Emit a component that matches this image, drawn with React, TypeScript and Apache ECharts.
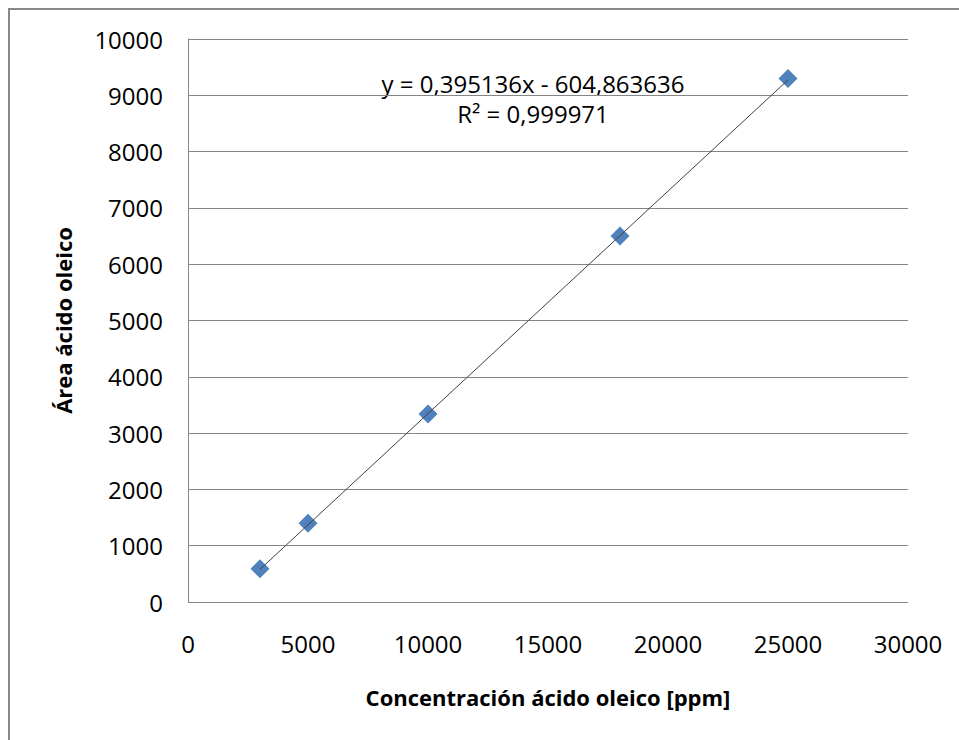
import React, { useEffect, useRef } from "react";
import * as echarts from "echarts";

const concentrations = [3000, 5000, 10000, 18000, 25000];
const areas = [590, 1400, 3340, 6500, 9300];
const slope = 0.395136;
const intercept = -604.863636;
const equationText = "y = 0,395136x - 604,863636";
const r2Text = "R² = 0,999971";
const xTitle = "Concentración ácido oleico [ppm]";
const yTitle = "Área ácido oleico";

export default function App() {
  const ref = useRef<HTMLDivElement>(null);
  useEffect(() => {
    document.body.style.margin = "0";
    const chart = echarts.init(ref.current!, null, { renderer: "svg" });
    const xs = [concentrations[0], concentrations[concentrations.length - 1]];
    const trend = xs.map((x) => [x, slope * x + intercept]);
    const font = "'Open Sans', sans-serif";
    chart.setOption({
      animation: false,
      backgroundColor: "#fff",
      grid: { left: 188, right: 51, top: 39, bottom: 138 },
      xAxis: {
        type: "value",
        min: 0,
        max: 30000,
        interval: 5000,
        name: xTitle,
        nameLocation: "middle",
        nameGap: 84,
        nameTextStyle: { fontFamily: font, fontSize: 22, fontWeight: "bold", color: "#000" },
        axisLine: { show: false },
        axisTick: { show: false },
        axisLabel: { fontFamily: font, fontSize: 24, color: "#000", margin: 29, formatter: (v: number) => String(v) },
        splitLine: { show: false },
      },
      yAxis: {
        type: "value",
        min: 0,
        max: 10000,
        interval: 1000,
        name: yTitle,
        nameLocation: "middle",
        nameGap: 114,
        nameTextStyle: { fontFamily: font, fontSize: 22, fontWeight: "bold", color: "#000" },
        axisLine: { show: true, lineStyle: { color: "#868686", width: 1 } },
        axisTick: { show: false },
        axisLabel: { fontFamily: font, fontSize: 24, color: "#000", margin: 25, formatter: (v: number) => String(v) },
        splitLine: { show: true, lineStyle: { color: "#868686", width: 1 } },
      },
      graphic: [
        {
          type: "rect",
          shape: { x: 9, y: 9, width: 1000, height: 800 },
          style: { fill: "none", stroke: "#888", lineWidth: 2 },
          silent: true,
        },
        {
          type: "text",
          x: 533,
          y: 83,
          style: { text: equationText, font: `24px ${font}`, fill: "#000", align: "center", verticalAlign: "middle" },
        },
        {
          type: "text",
          x: 533,
          y: 113,
          style: { text: r2Text, font: `24px ${font}`, fill: "#000", align: "center", verticalAlign: "middle" },
        },
      ],
      series: [
        {
          type: "line",
          data: trend,
          symbol: "none",
          lineStyle: { color: "#404040", width: 1 },
          z: 3,
        },
        {
          type: "scatter",
          data: concentrations.map((c, i) => [c, areas[i]]),
          symbol: "diamond",
          symbolSize: 19,
          itemStyle: { color: "#4F81BD", opacity: 1 },
          z: 2,
        },
      ],
    });
    return () => chart.dispose();
  }, []);
  return <div ref={ref} style={{ width: 959, height: 740 }} />;
}
